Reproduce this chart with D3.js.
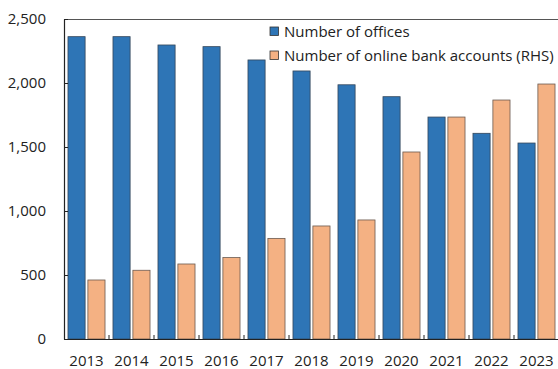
<!DOCTYPE html>
<html>
<head>
<meta charset="utf-8">
<script src="https://cdn.jsdelivr.net/npm/d3@7"></script>
<style>
  html, body { margin: 0; padding: 0; background: #fff; }
  svg { display: block; font-family: "Open Sans", "Noto Sans", sans-serif; }
</style>
</head>
<body>
<svg id="chart" width="558" height="369"></svg>
<script>
// Bank offices vs online bank accounts, 2013-2023
const years = ["2013", "2014", "2015", "2016", "2017", "2018", "2019", "2020", "2021", "2022", "2023"];
const offices = [2362, 2362, 2297, 2284, 2180, 2094, 1986, 1893, 1734, 1607, 1531];
const onlineAccounts = [461, 537, 586, 636, 786, 883, 930, 1461, 1734, 1867, 1992];
const seriesNames = ["Number of offices", "Number of online bank accounts (RHS)"];
const seriesColors = ["#2e75b6", "#f4b183"];
const leftTicks = [0, 500, 1000, 1500, 2000, 2500];

const svg = d3.select("#chart");
const margin = { left: 64, top: 19, bottom: 339, right: 559 };

const x = d3.scaleBand().domain(years).range([margin.left, margin.right]).padding(0);
const xInner = d3.scaleBand().domain([0, 1]).range([0, x.bandwidth()])
  .paddingInner(0.14).paddingOuter(0.2);
const yLeft = d3.scaleLinear().domain([0, 2500]).range([margin.bottom, margin.top]);
const yRight = d3.scaleLinear().domain([0, 2500]).range([margin.bottom, margin.top]);

// Bars
const rows = years.map((yr, i) => ({ yr, vals: [offices[i], onlineAccounts[i]] }));
const groups = svg.append("g").selectAll("g").data(rows).join("g")
  .attr("transform", d => `translate(${x(d.yr)},0)`);
groups.selectAll("rect").data(d => d.vals.map((v, k) => ({ v, k }))).join("rect")
  .attr("x", d => xInner(d.k))
  .attr("width", xInner.bandwidth())
  .attr("y", d => (d.k === 0 ? yLeft : yRight)(d.v))
  .attr("height", d => margin.bottom - (d.k === 0 ? yLeft : yRight)(d.v))
  .attr("fill", d => seriesColors[d.k])
  .attr("stroke", d => d.k === 0 ? "#34465a" : "#6b5a50")
  .attr("stroke-width", 0.8);

// Top frame line
svg.append("line")
  .attr("x1", margin.left).attr("x2", 558)
  .attr("y1", margin.top + 0.5).attr("y2", margin.top + 0.5)
  .attr("stroke", "#555").attr("stroke-width", 1.2);

// Left axis
const yAxis = d3.axisLeft(yLeft).tickValues(leftTicks)
  .tickFormat(d3.format(",")).tickSizeInner(-4).tickSizeOuter(0).tickPadding(18);
const gy = svg.append("g").attr("transform", `translate(${margin.left},0)`).call(yAxis);
gy.select(".domain").attr("stroke", "#222").attr("stroke-width", 1.2);
gy.selectAll(".tick line").attr("stroke", "#222");
gy.selectAll("text").attr("font-size", 15).attr("fill", "#222")
  .attr("font-family", "'Open Sans', sans-serif");

// Bottom axis with ticks between categories
const xAxis = d3.axisBottom(x).tickSize(0).tickPadding(16);
const gx = svg.append("g").attr("transform", `translate(0,${margin.bottom})`).call(xAxis);
gx.select(".domain").attr("stroke", "#222").attr("stroke-width", 1.2);
gx.selectAll("text").attr("font-size", 15).attr("fill", "#222")
  .attr("font-family", "'Open Sans', sans-serif");
svg.append("g").selectAll("line").data(years.slice(1)).join("line")
  .attr("x1", d => x(d)).attr("x2", d => x(d))
  .attr("y1", margin.bottom).attr("y2", margin.bottom - 4)
  .attr("stroke", "#222");

// Legend: entries start at x=270 and the longest label is fitted to end by x=554
const legendX = 270, legendTextX = 14, legendRight = 554;
const legend = svg.append("g").selectAll("g").data(seriesNames).join("g")
  .attr("transform", (d, i) => `translate(${legendX},${27 + i * 24})`);
legend.append("rect").attr("width", 8.5).attr("height", 8.5)
  .attr("fill", (d, i) => seriesColors[i]).attr("stroke", "#333").attr("stroke-width", 0.8);
const legendText = legend.append("text").attr("x", legendTextX).attr("y", 4.5).attr("dy", "0.35em")
  .attr("font-size", 15).attr("fill", "#222").text(d => d);
const widest = d3.max(legendText.nodes(), n => n.getComputedTextLength());
const room = legendRight - legendX - legendTextX;
if (widest > room) legendText.attr("font-size", 15 * room / widest);
</script>
</body>
</html>
